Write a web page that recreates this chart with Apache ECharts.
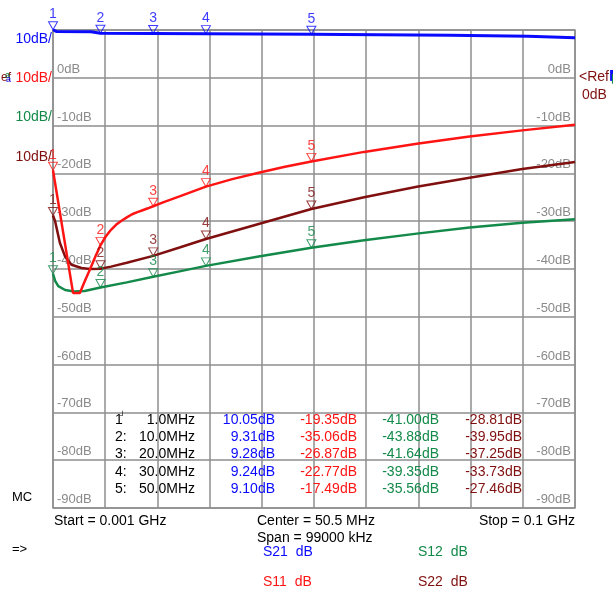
<!DOCTYPE html>
<html>
<head>
<meta charset="utf-8">
<script src="https://cdn.jsdelivr.net/npm/echarts@6/dist/echarts.min.js"></script>
<style>
  html, body { margin: 0; padding: 0; background: #ffffff; }
  #chart { width: 613px; height: 593px; }
</style>
</head>
<body>
<div id="chart"></div>
<script>
// Sweep: 1 MHz .. 100 MHz, 10 dB/div, reference 0 dB
const sweepStartMHz = 1;
const sweepStopMHz = 100;
const dbMin = -90;
const dbMax = 10;
const dbStep = 10;

// S21 trace (frequency MHz, dB)
const s21Freq = [1, 1.6, 8.2, 8.4, 10, 20, 30, 50, 56, 56.2, 76.3, 76.5, 91.1, 91.3, 100];
const s21Db   = [10.05, 9.7, 9.65, 9.35, 9.31, 9.28, 9.24, 9.10, 9.05, 8.95, 8.9, 8.72, 8.68, 8.4, 8.38];

// S11 trace
const s11Freq = [1, 4.8, 6.1, 7, 8, 9, 10, 11, 12, 13, 14, 15, 16, 17, 18, 19, 20, 22, 25, 30, 35, 40, 45, 50, 60, 70, 80, 90, 100];
const s11Db   = [-19.35, -45.0, -45.0, -42.6, -40.1, -37.5, -35.06, -33.2, -31.8, -30.7, -29.9, -29.2, -28.55, -28.1, -27.7, -27.3, -26.87, -26.0, -24.8, -22.77, -21.2, -19.85, -18.6, -17.49, -15.5, -13.8, -12.3, -11.0, -9.8];

// S12 trace
const s12Freq = [1, 1.4, 2, 3.3, 5, 7, 10, 15, 20, 25, 30, 40, 50, 60, 70, 80, 90, 100];
const s12Db   = [-41.0, -42.5, -43.6, -44.4, -44.7, -44.6, -43.88, -42.8, -41.64, -40.5, -39.35, -37.4, -35.56, -34.0, -32.6, -31.3, -30.3, -29.6];

// S22 trace
const s22Freq = [1, 1.4, 1.7, 2.3, 3.3, 4.5, 6.4, 8, 10, 12, 15, 20, 25, 30, 40, 50, 60, 70, 80, 90, 100];
const s22Db   = [-28.81, -30.0, -31.5, -34.5, -37.4, -39.1, -39.8, -40.0, -39.95, -39.5, -38.7, -37.25, -35.5, -33.73, -30.6, -27.46, -25.0, -22.8, -20.9, -19.1, -17.6];

// Markers 1..5
const markerFreq = [1.0, 10.0, 20.0, 30.0, 50.0];
const s21Mk = [10.05, 9.31, 9.28, 9.24, 9.10];
const s11Mk = [-19.35, -35.06, -26.87, -22.77, -17.49];
const s12Mk = [-41.00, -43.88, -41.64, -39.35, -35.56];
const s22Mk = [-28.81, -39.95, -37.25, -33.73, -27.46];

const FONT = "'Liberation Sans', Arial, sans-serif";
const C_BLUE = '#0a0aff';
const C_RED = '#ff1414';
const C_GREEN = '#138a4a';
const C_BROWN = '#800f0f';
const C_GRID = '#8e8e8e';
const C_GRIDTXT = '#8a8a8a';

const pair = (xs, ys) => xs.map((x, i) => [x, ys[i]]);

function traceSeries(name, xs, ys, color, width) {
  return {
    name, type: 'line', xAxisIndex: 0, yAxisIndex: 0,
    data: pair(xs, ys), showSymbol: false, symbol: 'none',
    lineStyle: { color, width }, z: 3, silent: true, animation: false
  };
}

function markerSeries(name, ys, color) {
  return {
    name, type: 'scatter', xAxisIndex: 0, yAxisIndex: 0,
    data: markerFreq.map((f, i) => [f, ys[i], i + 1]),
    clip: false,
    symbol: 'path://M0,0L10,0L5,8Z',
    symbolSize: [9, 8],
    symbolOffset: [0, -4],
    itemStyle: { color: 'rgba(255,255,255,0)', borderColor: color, borderWidth: 1 },
    label: {
      show: true, position: 'top', distance: 0,
      formatter: p => String(p.data[2]),
      color, fontSize: 14, fontFamily: FONT
    },
    z: 5, silent: true, animation: false
  };
}

// Marker read-out table and annotation texts
const graphics = [];
function txt(x, y, text, fill, size, align) {
  graphics.push({
    type: 'text', x, y, silent: true, z: 10,
    style: { text, fill, font: `${size}px ${FONT}`, align: align || 'left', verticalAlign: 'middle' }
  });
}

const rowY = [420, 437.3, 454.6, 471.9, 489.2];
markerFreq.forEach((f, i) => {
  const y = rowY[i];
  txt(115, y, i === 0 ? '1' : `${i + 1}:`, '#000', 14);
  txt(195, y, `${f.toFixed(1)}MHz`, '#000', 14, 'right');
  txt(275, y, `${s21Mk[i].toFixed(2)}dB`, C_BLUE, 14, 'right');
  txt(357, y, `${s11Mk[i].toFixed(2)}dB`, C_RED, 14, 'right');
  txt(439, y, `${s12Mk[i].toFixed(2)}dB`, C_GREEN, 14, 'right');
  txt(522, y, `${s22Mk[i].toFixed(2)}dB`, C_BROWN, 14, 'right');
});
txt(120, 416, '\u2518', '#000', 8);

// Per-trace scale labels on the left
txt(52, 39, '10dB/', C_BLUE, 14, 'right');
txt(52, 78, '10dB/', C_RED, 14, 'right');
txt(52, 117, '10dB/', C_GREEN, 14, 'right');
txt(52, 157, '10dB/', C_BROWN, 14, 'right');
txt(11, 78, 'ef', C_BROWN, 12, 'right');
txt(10, 76, 'a', C_GREEN, 9, 'right');
txt(11, 80, 'a', C_BLUE, 9, 'right');

// Reference indicator on the right
txt(579, 77, '<Ref', C_BROWN, 14);
txt(607, 76, '\u2590', C_BLUE, 9);
txt(609, 79, '\u2590', C_GREEN, 8);
txt(582, 95, '0dB', C_BROWN, 14);

// Sweep information
txt(12, 497, 'MC', '#000', 13);
txt(54, 521, 'Start = 0.001 GHz', '#000', 14);
txt(257, 521, 'Center = 50.5 MHz', '#000', 14);
txt(257, 538, 'Span = 99000 kHz', '#000', 14);
txt(575, 521, 'Stop = 0.1 GHz', '#000', 14, 'right');
txt(12, 549, '=>', '#000', 13);

// Active trace legend
txt(263, 552, 'S21  dB', C_BLUE, 14);
txt(418, 552, 'S12  dB', C_GREEN, 14);
txt(263, 582, 'S11  dB', C_RED, 14);
txt(418, 582, 'S22  dB', C_BROWN, 14);

const dbLabel = v => (v === dbMax ? '' : `${v}dB`);

const chart = echarts.init(document.getElementById('chart'), null, { renderer: 'canvas' });
chart.setOption({
  animation: false,
  backgroundColor: '#ffffff',
  grid: {
    left: 53, top: 30, width: 522, height: 478,
    show: true, borderColor: C_GRID, borderWidth: 1.5, backgroundColor: 'transparent'
  },
  xAxis: [
    {
      type: 'value', min: sweepStartMHz, max: sweepStopMHz,
      show: false, splitLine: { show: false }
    },
    {
      // graticule: 10 divisions across the sweep span
      type: 'value', min: 0, max: sweepStopMHz - sweepStartMHz,
      interval: (sweepStopMHz - sweepStartMHz) / 10,
      axisLine: { show: false }, axisTick: { show: false }, axisLabel: { show: false },
      splitLine: { show: true, lineStyle: { color: C_GRID, width: 1.5 } }
    }
  ],
  yAxis: [
    {
      type: 'value', min: dbMin, max: dbMax, interval: dbStep, position: 'left',
      axisLine: { show: false }, axisTick: { show: false },
      axisLabel: {
        inside: true, margin: 4, formatter: dbLabel, color: C_GRIDTXT,
        fontSize: 13, fontFamily: FONT, verticalAlign: 'bottom', align: 'left',
        padding: [0, 0, 2, 0]
      },
      splitLine: { show: true, lineStyle: { color: C_GRID, width: 1.5 } }
    },
    {
      type: 'value', min: dbMin, max: dbMax, interval: dbStep, position: 'right',
      axisLine: { show: false }, axisTick: { show: false },
      axisLabel: {
        inside: true, margin: 4, formatter: dbLabel, color: C_GRIDTXT,
        fontSize: 13, fontFamily: FONT, verticalAlign: 'bottom', align: 'right',
        padding: [0, 0, 2, 0]
      },
      splitLine: { show: false }
    }
  ],
  series: [
    traceSeries('S22', s22Freq, s22Db, C_BROWN, 2.5),
    traceSeries('S12', s12Freq, s12Db, C_GREEN, 2.5),
    traceSeries('S11', s11Freq, s11Db, C_RED, 2.5),
    traceSeries('S21', s21Freq, s21Db, C_BLUE, 3),
    markerSeries('S22 markers', s22Mk, C_BROWN),
    markerSeries('S12 markers', s12Mk, C_GREEN),
    markerSeries('S11 markers', s11Mk, C_RED),
    markerSeries('S21 markers', s21Mk, C_BLUE)
  ],
  graphic: graphics
});
</script>
</body>
</html>
